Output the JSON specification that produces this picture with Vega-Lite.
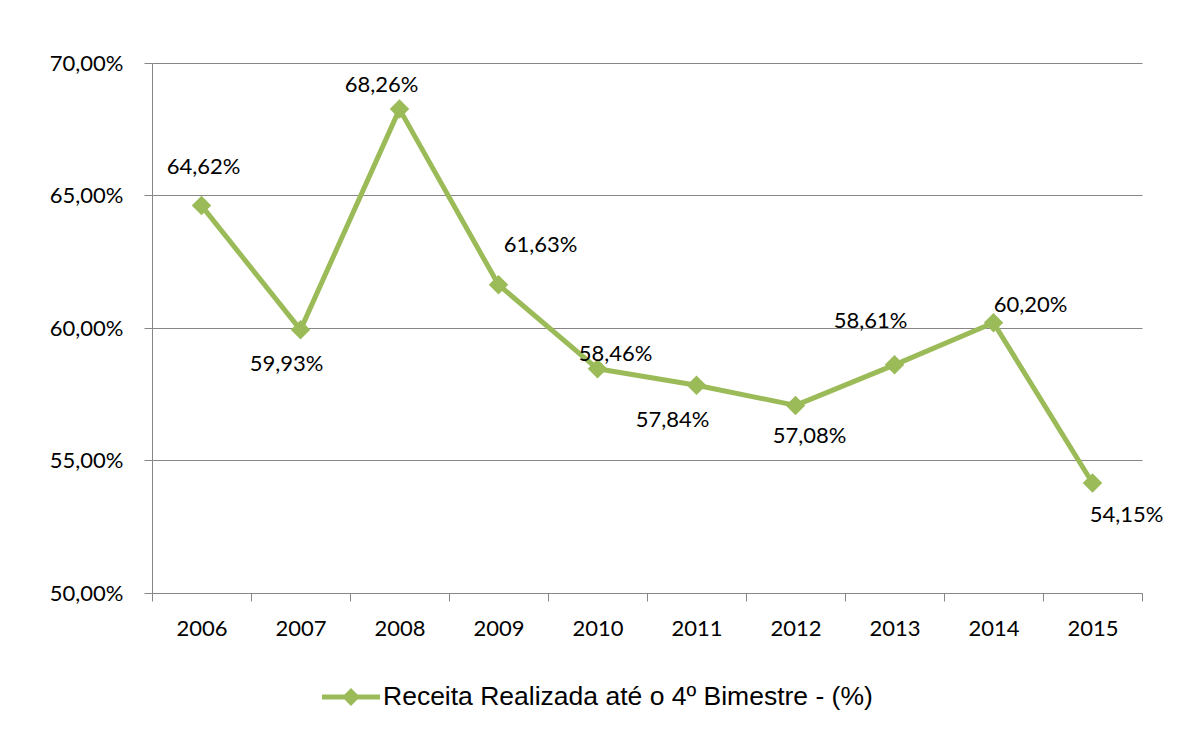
{
  "$schema": "https://vega.github.io/schema/vega-lite/v6.json",
  "width": 990,
  "height": 530,
  "autosize": {"type": "none"},
  "padding": {"left": 152, "top": 63, "right": 41, "bottom": 143},
  "background": "white",
  "data": {
    "values": [
      {"ano": "2006", "valor": 0.6462},
      {"ano": "2007", "valor": 0.5993},
      {"ano": "2008", "valor": 0.6826},
      {"ano": "2009", "valor": 0.6163},
      {"ano": "2010", "valor": 0.5846},
      {"ano": "2011", "valor": 0.5784},
      {"ano": "2012", "valor": 0.5708},
      {"ano": "2013", "valor": 0.5861},
      {"ano": "2014", "valor": 0.6020},
      {"ano": "2015", "valor": 0.5415}
    ]
  },
  "encoding": {
    "x": {
      "field": "ano",
      "type": "ordinal",
      "bandPosition": 0.5,
      "scale": {"type": "band", "paddingInner": 0, "paddingOuter": 0},
      "axis": {
        "title": null,
        "labelAngle": 0,
        "tickBand": "extent",
        "tickSize": 8,
        "tickColor": "#868686",
        "domainColor": "#868686",
        "labelFont": "Lato",
        "labelFontSize": 22,
        "labelColor": "black",
        "labelPadding": 17,
        "grid": false
      }
    },
    "y": {
      "field": "valor",
      "type": "quantitative",
      "scale": {"domain": [0.5, 0.7], "nice": false, "zero": false},
      "axis": {
        "title": null,
        "values": [0.5, 0.55, 0.6, 0.65, 0.7],
        "format": ".2%",
        "grid": true,
        "gridColor": "#868686",
        "domainColor": "#868686",
        "tickColor": "#868686",
        "tickSize": 8,
        "labelPadding": 21,
        "labelFont": "Lato",
        "labelFontSize": 22,
        "labelColor": "black"
      }
    }
  },
  "layer": [
    {
      "mark": {"type": "line", "color": "#9BBB59", "strokeWidth": 5, "strokeJoin": "round"}
    },
    {
      "mark": {"type": "point", "shape": "diamond", "filled": true, "size": 380, "opacity": 1},
      "encoding": {
        "color": {
          "datum": "Receita Realizada até o 4º Bimestre - (%)",
          "scale": {"range": ["#9BBB59"]},
          "legend": {
            "title": null,
            "orient": "none",
            "legendX": 170,
            "legendY": 605,
            "padding": 0,
            "symbolType": "M-1,-0.086L1,-0.086L1,0.086L-1,0.086Z M0,-0.31L0.31,0L0,0.31L-0.31,0Z",
            "symbolSize": 3364,
            "symbolStrokeWidth": 0,
            "symbolOpacity": 1,
            "labelFont": "Liberation Sans",
            "labelFontSize": 26.5,
            "labelColor": "black",
            "labelOffset": 3,
            "labelLimit": 800
          }
        }
      }
    },
    {"transform": [{"filter": "datum.ano == '2006'"}], "mark": {"type": "text", "dx": 2, "dy": -39, "font": "Lato", "fontSize": 22, "color": "black"}, "encoding": {"text": {"field": "valor", "type": "quantitative", "format": ".2%"}}},
    {"transform": [{"filter": "datum.ano == '2007'"}], "mark": {"type": "text", "dx": -14, "dy": 34, "font": "Lato", "fontSize": 22, "color": "black"}, "encoding": {"text": {"field": "valor", "type": "quantitative", "format": ".2%"}}},
    {"transform": [{"filter": "datum.ano == '2008'"}], "mark": {"type": "text", "dx": -18, "dy": -24, "font": "Lato", "fontSize": 22, "color": "black"}, "encoding": {"text": {"field": "valor", "type": "quantitative", "format": ".2%"}}},
    {"transform": [{"filter": "datum.ano == '2009'"}], "mark": {"type": "text", "dx": 42, "dy": -40, "font": "Lato", "fontSize": 22, "color": "black"}, "encoding": {"text": {"field": "valor", "type": "quantitative", "format": ".2%"}}},
    {"transform": [{"filter": "datum.ano == '2010'"}], "mark": {"type": "text", "dx": 18, "dy": -15, "font": "Lato", "fontSize": 22, "color": "black"}, "encoding": {"text": {"field": "valor", "type": "quantitative", "format": ".2%"}}},
    {"transform": [{"filter": "datum.ano == '2011'"}], "mark": {"type": "text", "dx": -24, "dy": 35, "font": "Lato", "fontSize": 22, "color": "black"}, "encoding": {"text": {"field": "valor", "type": "quantitative", "format": ".2%"}}},
    {"transform": [{"filter": "datum.ano == '2012'"}], "mark": {"type": "text", "dx": 14, "dy": 31, "font": "Lato", "fontSize": 22, "color": "black"}, "encoding": {"text": {"field": "valor", "type": "quantitative", "format": ".2%"}}},
    {"transform": [{"filter": "datum.ano == '2013'"}], "mark": {"type": "text", "dx": -24, "dy": -44, "font": "Lato", "fontSize": 22, "color": "black"}, "encoding": {"text": {"field": "valor", "type": "quantitative", "format": ".2%"}}},
    {"transform": [{"filter": "datum.ano == '2014'"}], "mark": {"type": "text", "dx": 37, "dy": -18, "font": "Lato", "fontSize": 22, "color": "black"}, "encoding": {"text": {"field": "valor", "type": "quantitative", "format": ".2%"}}},
    {"transform": [{"filter": "datum.ano == '2015'"}], "mark": {"type": "text", "dx": 34, "dy": 32, "font": "Lato", "fontSize": 22, "color": "black"}, "encoding": {"text": {"field": "valor", "type": "quantitative", "format": ".2%"}}}
  ],
  "config": {
    "view": {"stroke": null},
    "locale": {"number": {"decimal": ",", "thousands": ".", "grouping": [3], "currency": ["R$", ""]}}
  }
}
